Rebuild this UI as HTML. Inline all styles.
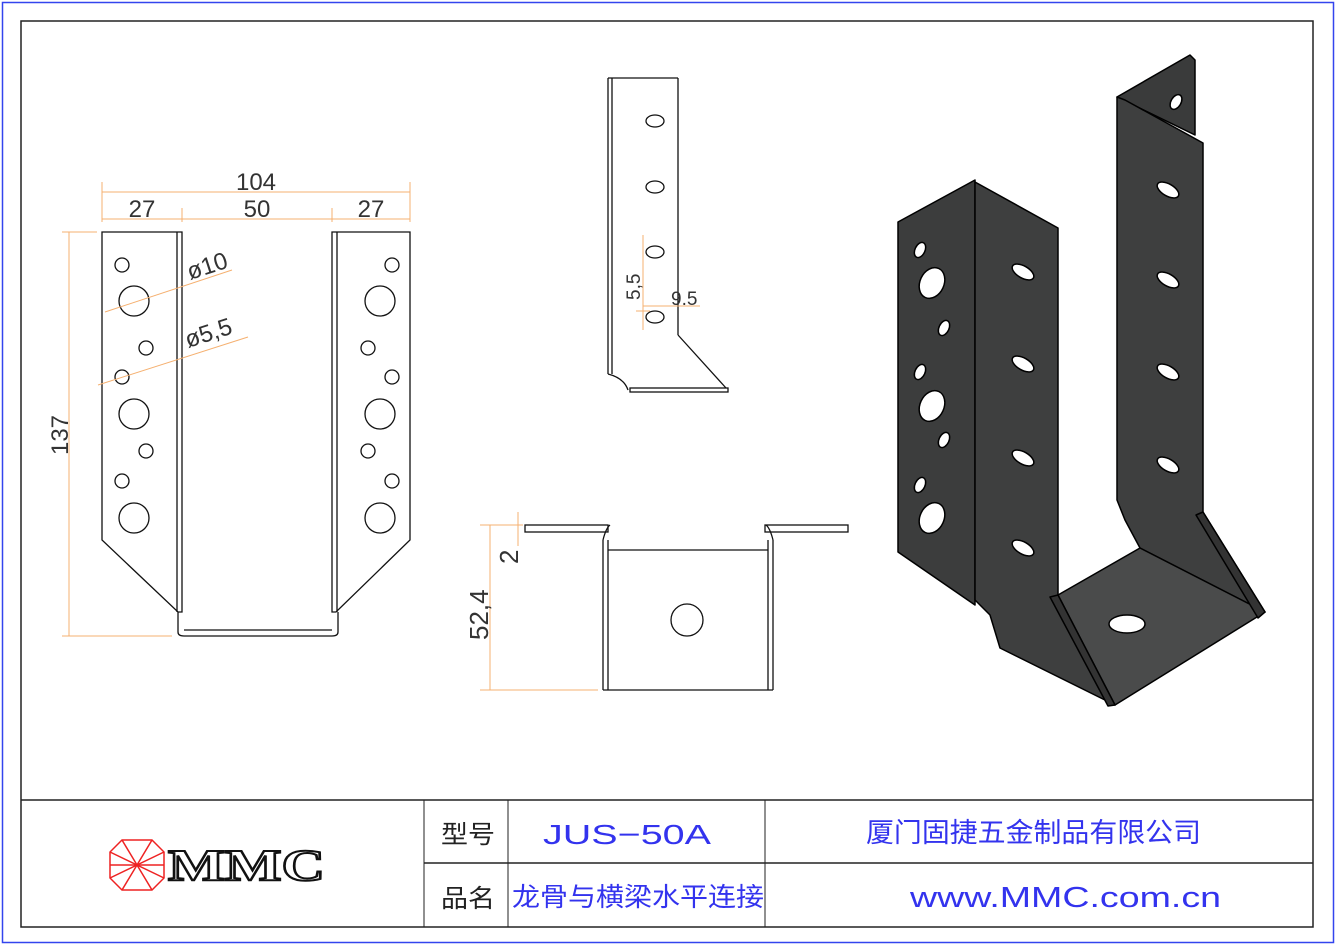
<!DOCTYPE html>
<html><head><meta charset="utf-8"><style>
html,body{margin:0;padding:0;background:#fff;}
svg{display:block;}
.t{font-family:"Liberation Sans","Noto Sans CJK SC",sans-serif;}
</style></head><body>
<svg width="1337" height="949" viewBox="0 0 1337 949" xmlns="http://www.w3.org/2000/svg">
<rect x="2.5" y="2.5" width="1331" height="940" fill="none" stroke="#3344ee" stroke-width="1.5"/>
<rect x="21" y="21" width="1292" height="906" fill="none" stroke="#222" stroke-width="1.5"/>
<line x1="21" y1="800" x2="1313" y2="800" stroke="#222" stroke-width="1.5"/>
<line x1="424" y1="800" x2="424" y2="927" stroke="#222"/>
<line x1="508" y1="800" x2="508" y2="927" stroke="#222"/>
<line x1="765" y1="800" x2="765" y2="927" stroke="#222"/>
<line x1="424" y1="863" x2="1313" y2="863" stroke="#222" stroke-width="1.5"/>

<g class="t">
<text x="441" y="843" font-size="25" fill="#222" textLength="54" lengthAdjust="spacingAndGlyphs">型号</text>
<text x="441" y="907" font-size="25" fill="#222" textLength="54" lengthAdjust="spacingAndGlyphs">品名</text>
<text x="543" y="844" font-size="28" fill="#3333ee" textLength="168" lengthAdjust="spacingAndGlyphs">JUS−50A</text>
<text x="866" y="842" font-size="27" fill="#3333ee" textLength="335" lengthAdjust="spacingAndGlyphs">厦门固捷五金制品有限公司</text>
<text x="512" y="906" font-size="26" fill="#3333ee" textLength="252" lengthAdjust="spacingAndGlyphs">龙骨与横梁水平连接</text>
<text x="910" y="907" font-size="29" fill="#3333ee" textLength="311" lengthAdjust="spacingAndGlyphs">www.MMC.com.cn</text>
</g>
<g fill="none" stroke="#e22" stroke-width="1.5">
<polygon points="122,840 152,840 164,852 164,878 152,890 122,890 110,878 110,852"/>
<line x1="110" y1="852" x2="164" y2="878"/><line x1="110" y1="878" x2="164" y2="852"/>
<line x1="122" y1="840" x2="152" y2="890"/><line x1="152" y1="840" x2="122" y2="890"/>
<line x1="110" y1="865" x2="164" y2="865"/>
</g>
<text x="168" y="880" font-family="Liberation Serif,serif" font-weight="bold" font-size="44" fill="#fff" stroke="#111" stroke-width="2" textLength="157" lengthAdjust="spacingAndGlyphs">MMC</text>

<g fill="none" stroke="#111" stroke-width="1.3">
<polygon points="102,232 182,232 182,612 178,612 102,540"/>
<line x1="177" y1="232" x2="177" y2="612"/>
<polygon points="410,232 332,232 332,612 336,612 410,540"/>
<line x1="337" y1="232" x2="337" y2="612"/>
<path d="M178,612 V632 Q178,636 184,636 H332 Q338,636 338,632 V612"/>
<line x1="184" y1="630" x2="332" y2="630"/>
<circle cx="122" cy="265" r="7"/><circle cx="146" cy="348" r="7"/><circle cx="122" cy="377" r="7"/><circle cx="146" cy="451" r="7"/><circle cx="122" cy="481" r="7"/>
<circle cx="134" cy="301" r="15"/><circle cx="134" cy="414" r="15"/><circle cx="134" cy="518" r="15"/>
<circle cx="392" cy="265" r="7"/><circle cx="368" cy="348" r="7"/><circle cx="392" cy="377" r="7"/><circle cx="368" cy="451" r="7"/><circle cx="392" cy="481" r="7"/>
<circle cx="380" cy="301" r="15"/><circle cx="380" cy="414" r="15"/><circle cx="380" cy="518" r="15"/>
</g>
<g stroke="#f5b070" stroke-width="1" fill="none">
<line x1="102" y1="182" x2="102" y2="222"/><line x1="410" y1="182" x2="410" y2="222"/>
<line x1="182" y1="208" x2="182" y2="222"/><line x1="332" y1="208" x2="332" y2="222"/>
<line x1="102" y1="192" x2="410" y2="192"/><line x1="102" y1="219" x2="410" y2="219"/>
<line x1="62" y1="232" x2="97" y2="232"/><line x1="62" y1="636" x2="172" y2="636"/>
<line x1="69" y1="232" x2="69" y2="636"/>
<line x1="105" y1="312" x2="232" y2="270"/><line x1="98" y1="385" x2="248" y2="337"/>
</g>
<g class="t" font-size="24" fill="#333">
<text x="256" y="190" text-anchor="middle">104</text>
<text x="142" y="217" text-anchor="middle">27</text>
<text x="257" y="217" text-anchor="middle">50</text>
<text x="371" y="217" text-anchor="middle">27</text>
<text x="68" y="435" text-anchor="middle" transform="rotate(-90 68 435)">137</text>
<text x="190" y="280" transform="rotate(-18 190 280)">ø10</text>
<text x="188" y="348" transform="rotate(-18 188 348)">ø5,5</text>
</g>

<g fill="none" stroke="#111" stroke-width="1.3">
<line x1="608" y1="78" x2="678" y2="78"/>
<line x1="608" y1="78" x2="608" y2="374"/><line x1="612" y1="78" x2="612" y2="374"/>
<line x1="678" y1="78" x2="678" y2="335"/><line x1="678" y1="335" x2="726" y2="388"/>
<path d="M608,374 Q624,378 628,390"/>
<rect x="630" y="388" width="98" height="4"/>
<ellipse cx="655" cy="121" rx="9" ry="6"/><ellipse cx="655" cy="187" rx="9" ry="6"/><ellipse cx="655" cy="252" rx="9" ry="6"/><ellipse cx="655" cy="317" rx="9" ry="6"/>
</g>
<g stroke="#f5b070" stroke-width="1"><line x1="643" y1="235" x2="643" y2="330"/><line x1="643" y1="306" x2="700" y2="306"/><line x1="636" y1="311" x2="650" y2="311"/></g>
<g class="t" font-size="19" fill="#333">
<text x="640" y="300" transform="rotate(-90 640 300)">5,5</text>
<text x="671" y="305">9.5</text>
</g>

<g fill="none" stroke="#111" stroke-width="1.3">
<rect x="525" y="525" width="83" height="7"/><rect x="765" y="525" width="83" height="7"/>
<line x1="603" y1="540" x2="603" y2="690"/><line x1="608" y1="540" x2="608" y2="690"/>
<line x1="768" y1="540" x2="768" y2="690"/><line x1="773" y1="540" x2="773" y2="690"/>
<line x1="608" y1="550" x2="768" y2="550"/><line x1="603" y1="690" x2="773" y2="690"/>
<path d="M603,540 Q606,528 610,525"/><path d="M773,540 Q770,528 766,525"/>
<circle cx="687" cy="620" r="16"/>
</g>
<g stroke="#f5b070" stroke-width="1"><line x1="480" y1="525" x2="523" y2="525"/><line x1="480" y1="690" x2="598" y2="690"/><line x1="490" y1="525" x2="490" y2="690"/><line x1="518" y1="512" x2="518" y2="546"/></g>
<g class="t" font-size="26" fill="#333">
<text x="518" y="564" transform="rotate(-90 518 564)">2</text>
<text x="488" y="640" transform="rotate(-90 488 640)">52,4</text>
</g>

<g stroke="#000" stroke-width="1.5" stroke-linejoin="round">
<polygon points="1117,97 1190,55 1195,60 1195,135" fill="#3a3b3b"/>
<polygon points="1117,97 1125,100 1203,143 1203,512 1265,612 1140,548 1125,520 1117,500" fill="#3e3f3f"/>
<polygon points="898,222 975,180 975,605 898,552" fill="#3c3d3d"/>
<polygon points="975,182 1058,228 1058,595 1115,705 1000,648 990,615 975,600" fill="#3e3f3f"/>
<polygon points="1058,595 1140,548 1265,612 1115,705" fill="#4a4b4b"/>
<polygon points="1203,512 1265,612 1258,618 1196,515" fill="#333"/>
<polygon points="1050,597 1058,595 1115,705 1108,706" fill="#333"/>
</g>
<g fill="#fff" stroke="#000" stroke-width="1.5">
<ellipse cx="920" cy="250" rx="5" ry="8" transform="rotate(25 920 250)"/>
<ellipse cx="932" cy="283" rx="12" ry="16" transform="rotate(25 932 283)"/>
<ellipse cx="944" cy="328" rx="5" ry="8" transform="rotate(25 944 328)"/>
<ellipse cx="920" cy="372" rx="5" ry="8" transform="rotate(25 920 372)"/>
<ellipse cx="932" cy="406" rx="12" ry="16" transform="rotate(25 932 406)"/>
<ellipse cx="944" cy="440" rx="5" ry="8" transform="rotate(25 944 440)"/>
<ellipse cx="920" cy="485" rx="5" ry="8" transform="rotate(25 920 485)"/>
<ellipse cx="932" cy="518" rx="12" ry="16" transform="rotate(25 932 518)"/>
<ellipse cx="1023" cy="272" rx="12" ry="6" transform="rotate(30 1023 272)"/>
<ellipse cx="1023" cy="364" rx="12" ry="6" transform="rotate(30 1023 364)"/>
<ellipse cx="1023" cy="458" rx="12" ry="6" transform="rotate(30 1023 458)"/>
<ellipse cx="1023" cy="548" rx="12" ry="6" transform="rotate(30 1023 548)"/>
<ellipse cx="1168" cy="190" rx="12" ry="6" transform="rotate(30 1168 190)"/>
<ellipse cx="1168" cy="280" rx="12" ry="6" transform="rotate(30 1168 280)"/>
<ellipse cx="1168" cy="372" rx="12" ry="6" transform="rotate(30 1168 372)"/>
<ellipse cx="1168" cy="465" rx="12" ry="6" transform="rotate(30 1168 465)"/>
<ellipse cx="1176" cy="102" rx="5" ry="8" transform="rotate(30 1176 102)"/>
<ellipse cx="1127" cy="624" rx="18" ry="9"/>
</g>
</svg>
</body></html>
